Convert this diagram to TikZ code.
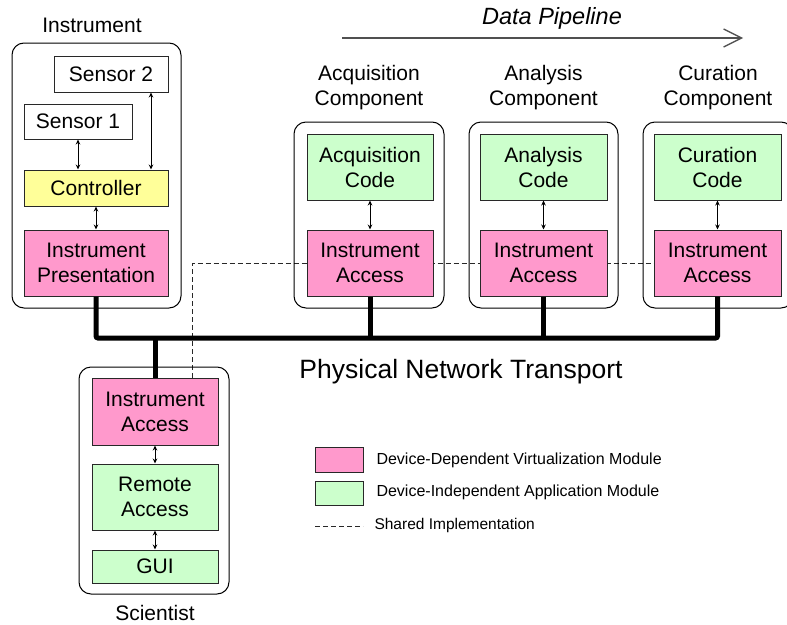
\documentclass[tikz,border=0pt]{standalone}
\usepackage{fontspec}
\setmainfont{Liberation Sans}
\usetikzlibrary{positioning, arrows.meta, calc, backgrounds}
\definecolor{virtPink}{RGB}{255,153,204}
\definecolor{appGreen}{RGB}{204,255,204}
\definecolor{ctrlYellow}{RGB}{255,255,153}
\definecolor{edgeBase}{RGB}{ 40, 40, 40}
\definecolor{pipeGrey}{RGB}{ 80, 80, 80}
\tikzset{
    boxfont/.style={font=\fontsize{21}{25}\selectfont},
    % rounded frame around one component
    outerbox/.style={
        rounded corners=12pt, draw=black, line width=1pt,
        inner sep=0pt,
    },
    % square module boxes
    modbox/.style={
        draw=edgeBase, line width=1pt, inner sep=0pt,
        align=center, boxfont,
    },
    plainbox/.style={modbox, fill=white},
    ctrlbox/.style={modbox, fill=ctrlYellow},
    virtbox/.style={modbox, fill=virtPink},
    appbox/.style={modbox, fill=appGreen},
    complabel/.style={align=center, boxfont},
    % edge styles
    link/.style={
        {Stealth[length=5pt,width=4.5pt]}-{Stealth[length=5pt,width=4.5pt]},
        line width=0.9pt, draw=black,
    },
    bus/.style={line width=5pt, draw=black, rounded corners=2pt},
    shared/.style={line width=0.8pt, draw=edgeBase,
        dash pattern=on 5pt off 3pt},
    pipe/.style={-{Straight Barb[length=18pt,width=18pt]},
        line width=1.3pt, draw=pipeGrey},
    legtext/.style={anchor=west, font=\fontsize{16}{19}\selectfont},
}

\begin{document}
\begin{tikzpicture}[x=1pt, y=-1pt]
\clip (0,0) rectangle (787,624);

% ============================================================
%   Outer frames (one per component)
% ============================================================
\node[outerbox, minimum width=169pt, minimum height=265pt] (instF) at ( 96.5,175.5) {};
\node[outerbox, minimum width=150pt, minimum height=186pt] (acqF)  at (369.0,215.0) {};
\node[outerbox, minimum width=149pt, minimum height=186pt] (anaF)  at (543.5,215.0) {};
\node[outerbox, minimum width=150pt, minimum height=186pt] (curF)  at (718.0,215.0) {};
\node[outerbox, minimum width=150pt, minimum height=227pt] (sciF)  at (154.0,480.5) {};

% ============================================================
%   Instrument
% ============================================================
\node[boxfont] (instL) at (92,25) {Instrument};
\node[plainbox, minimum width=114pt, minimum height=36pt] (S2) at (111, 74) {Sensor 2};
\node[plainbox, minimum width=108pt, minimum height=35pt] (S1) at ( 78,121.5) {Sensor 1};
\node[ctrlbox,  minimum width=144pt, minimum height=36pt] (Ctrl) at (96,188) {Controller};
\node[virtbox,  minimum width=144pt, minimum height=66pt] (IP) at (96,263)
    {Instrument\\Presentation};

% ============================================================
%   Pipeline components
% ============================================================
\node[complabel] (acqL) at (369,88) {Acquisition\\Component};
\node[complabel] (anaL) at (543.5,88) {Analysis\\Component};
\node[complabel] (curL) at (718,88) {Curation\\Component};

\node[appbox,  minimum width=126pt, minimum height=66pt] (AcqC)  at (370,167) {Acquisition\\Code};
\node[virtbox, minimum width=126pt, minimum height=66pt] (AcqIA) at (370,263) {Instrument\\Access};
\node[appbox,  minimum width=127pt, minimum height=66pt] (AnaC)  at (543.5,167) {Analysis\\Code};
\node[virtbox, minimum width=127pt, minimum height=66pt] (AnaIA) at (543.5,263) {Instrument\\Access};
\node[appbox,  minimum width=127pt, minimum height=66pt] (CurC)  at (717.5,167) {Curation\\Code};
\node[virtbox, minimum width=127pt, minimum height=66pt] (CurIA) at (717.5,263) {Instrument\\Access};

% ============================================================
%   Scientist
% ============================================================
\node[virtbox, minimum width=126pt, minimum height=67pt] (SciIA) at (155,411.5) {Instrument\\Access};
\node[appbox,  minimum width=126pt, minimum height=66pt] (RA)    at (155,497) {Remote\\Access};
\node[appbox,  minimum width=126pt, minimum height=33pt] (GUI)   at (155,566.5) {GUI};
\node[boxfont] (sciL) at (155,613) {Scientist};

% ============================================================
%   Local links
% ============================================================
\draw[link] (S1.south) -- (S1.south |- Ctrl.north);
\draw[link] ([xshift=40pt]S2.south) -- ([xshift=40pt]S2.south |- Ctrl.north);
\draw[link] (Ctrl.south) -- (IP.north);
\draw[link] (AcqC) -- (AcqIA);
\draw[link] (AnaC) -- (AnaIA);
\draw[link] (CurC) -- (CurIA);
\draw[link] (SciIA) -- (RA);
\draw[link] (RA) -- (GUI);

% ============================================================
%   Physical network (thick bus)
% ============================================================
\coordinate (busY) at (0,338);
\draw[bus] (IP.south) -- (IP.south |- busY) -| (CurIA.south);
\draw[bus] (AcqIA.south) -- (AcqIA.south |- busY);
\draw[bus] (AnaIA.south) -- (AnaIA.south |- busY);
\draw[bus] (SciIA.north) -- (SciIA.north |- busY);
\node[font=\fontsize{26.5}{30}\selectfont] (netL) at (461,372) {Physical Network Transport};

% --- shared implementation (dashed, under the boxes) ---------
\begin{scope}[on background layer]
\draw[shared] ([xshift=37pt]SciIA.north) |- (CurIA.west);
\end{scope}

% ============================================================
%   Data pipeline arrow
% ============================================================
\node[font=\fontsize{23.5}{28}\selectfont\itshape] (pipeL) at (552,18) {Data Pipeline};
\coordinate (pipeS) at (342,38);
\coordinate (pipeE) at (743,38);
\draw[pipe] (pipeS) -- (pipeE);

% ============================================================
%   Legend
% ============================================================
\node[virtbox, minimum width=48pt, minimum height=25pt] (legV) at (339,459.5) {};
\node[appbox,  minimum width=48pt, minimum height=24pt] (legA) at (339,493) {};
\coordinate (legS1) at (315,526);
\coordinate (legS2) at (363,526);
\draw[shared] (legS1) -- (legS2);
\node[legtext] (legVt) at (373,460) {Device-Dependent Virtualization Module};
\node[legtext] (legAt) at (373,492) {Device-Independent Application Module};
\node[legtext, font=\fontsize{15.5}{18}\selectfont] (legSt) at (371,525) {Shared Implementation};

\end{tikzpicture}
\end{document}
